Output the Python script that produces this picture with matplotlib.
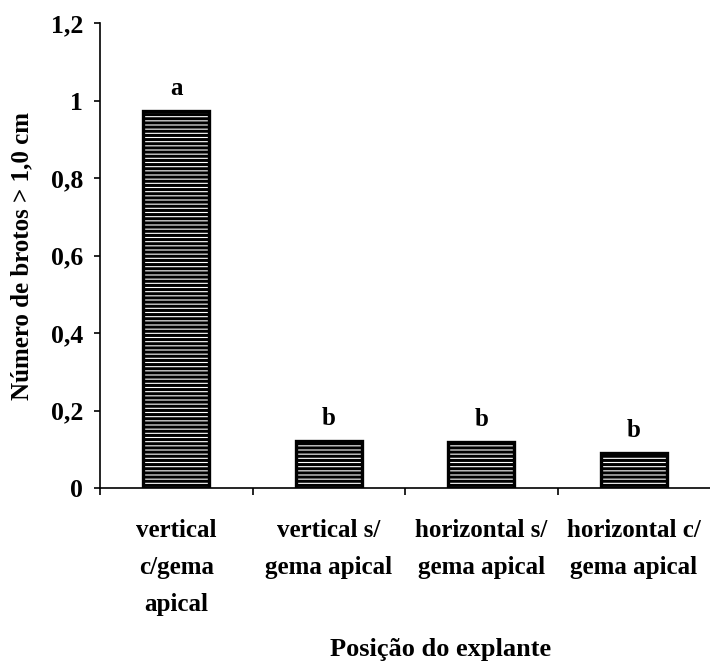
import numpy as np
import matplotlib.pyplot as plt

plt.rcParams['font.family'] = ['Liberation Serif', 'DejaVu Serif']
plt.rcParams['font.weight'] = 'bold'
plt.rcParams['hatch.linewidth'] = 2.2
plt.rcParams['hatch.color'] = 'black'

## the data
categorias = ['vertical\nc/gema\napical', 'vertical s/\ngema apical',
              'horizontal s/\ngema apical', 'horizontal c/\ngema apical']
brotos = [0.973, 0.121, 0.118, 0.090]
letras = ['a', 'b', 'b', 'b']
yticks = [0, 0.2, 0.4, 0.6, 0.8, 1.0, 1.2]
ytick_labels = ['0', '0,2', '0,4', '0,6', '0,8', '1', '1,2']

fig = plt.figure(figsize=(7.1, 6.63), dpi=100)
ax = fig.add_axes([100/710, 175/663, 610/710, 465/663])

ind = np.arange(len(categorias)) + 0.5   # centre of each group
width = 0.43

# hatched fill, then a thick outline on top
ax.bar(ind, brotos, width, color='white', edgecolor='black',
       hatch='----', linewidth=0)
ax.bar(ind, brotos, width, fill=False, edgecolor='black', linewidth=2.4)

for x, v, l in zip(ind, brotos, letras):
    ax.annotate(l, (x, v), xytext=(0, 8), textcoords='offset points',
                ha='center', va='bottom', fontsize=18, fontweight='bold')

# axes and labels
ax.set_xlim(0, len(categorias))
ax.set_ylim(0, 1.2)
ax.set_yticks(yticks)
ax.set_yticklabels(ytick_labels, fontsize=18.5, fontweight='bold')
ax.set_xticks(np.arange(len(categorias)))
ax.set_xticklabels([])
ax.set_xticks(ind, minor=True)
ax.set_xticklabels(categorias, minor=True, fontsize=18, fontweight='bold',
                   linespacing=1.8)
ax.tick_params(axis='x', which='minor', length=0, pad=22)
ax.tick_params(axis='x', which='major', direction='out', length=5, width=1.2)
ax.tick_params(axis='y', direction='out', length=4, width=1.2, pad=8)

ax.spines['top'].set_visible(False)
ax.spines['right'].set_visible(False)
ax.spines['left'].set_linewidth(1.2)
ax.spines['bottom'].set_linewidth(1.2)

ax.set_ylabel('Número de brotos > 1,0 cm', fontsize=18, fontweight='bold',
              va='center')
ax.yaxis.set_label_coords(-78/610, 0.5)
ax.set_xlabel('Posição do explante', fontsize=19, fontweight='bold',
              va='baseline')
ax.xaxis.set_label_coords(341/610, -168/465)

fig.savefig('out.png', dpi=100)
